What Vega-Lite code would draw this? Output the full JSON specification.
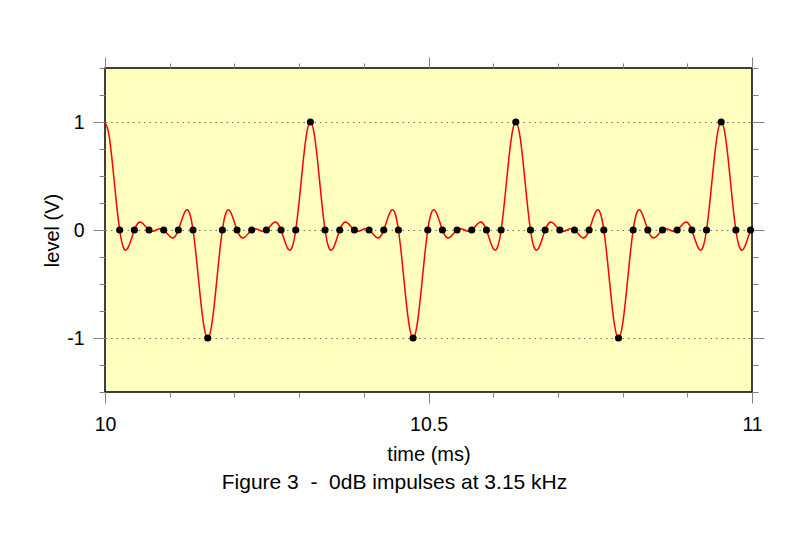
{
  "$schema": "https://vega.github.io/schema/vega-lite/v6.json",
  "width": 647,
  "height": 324,
  "autosize": {"type": "none"},
  "padding": {"left": 105, "top": 68, "right": 49, "bottom": 150},
  "background": "white",
  "title": {
    "text": "Figure 3\u00a0\u00a0-\u00a0\u00a00dB impulses at 3.15 kHz",
    "orient": "bottom",
    "anchor": "middle",
    "frame": "group",
    "font": "Liberation Sans",
    "fontSize": 21,
    "fontWeight": "normal",
    "color": "black",
    "offset": 7,
    "dx": -34
  },
  "config": {
    "font": "Liberation Sans",
    "view": {"fill": "#FFFFC0", "stroke": "black", "strokeWidth": 1.5},
    "axis": {
      "grid": false,
      "domain": false,
      "labelFlush": false,
      "tickColor": "#808080",
      "tickWidth": 1,
      "labelFont": "Liberation Sans",
      "labelFontSize": 19.5,
      "labelColor": "black",
      "titleFont": "Liberation Sans",
      "titleFontSize": 20,
      "titleFontWeight": "normal",
      "titleColor": "black"
    }
  },
  "datasets": {
    "curve": [
      {"t": 10, "v": 1}, {"t": 10.00567, "v": 0.8965}, {"t": 10.01134, "v": 0.6259}, {"t": 10.01701, "v": 0.2887},
      {"t": 10.02268, "v": 0}, {"t": 10.02834, "v": -0.1608}, {"t": 10.03401, "v": -0.1791}, {"t": 10.03968, "v": -0.101},
      {"t": 10.04535, "v": 0}, {"t": 10.05102, "v": 0.0635}, {"t": 10.05669, "v": 0.0688}, {"t": 10.06236, "v": 0.0353},
      {"t": 10.06803, "v": 0}, {"t": 10.0737, "v": -0.0114}, {"t": 10.07937, "v": 0}, {"t": 10.08503, "v": 0.0114},
      {"t": 10.0907, "v": 0}, {"t": 10.09637, "v": -0.0353}, {"t": 10.10204, "v": -0.0688}, {"t": 10.10771, "v": -0.0635},
      {"t": 10.11338, "v": 0}, {"t": 10.11905, "v": 0.101}, {"t": 10.12472, "v": 0.1791}, {"t": 10.13039, "v": 0.1608},
      {"t": 10.13605, "v": 0}, {"t": 10.14172, "v": -0.2887}, {"t": 10.14739, "v": -0.6259}, {"t": 10.15306, "v": -0.8965},
      {"t": 10.15873, "v": -1}, {"t": 10.1644, "v": -0.8965}, {"t": 10.17007, "v": -0.6259}, {"t": 10.17574, "v": -0.2887},
      {"t": 10.18141, "v": 0}, {"t": 10.18707, "v": 0.1608}, {"t": 10.19274, "v": 0.1791}, {"t": 10.19841, "v": 0.101},
      {"t": 10.20408, "v": 0}, {"t": 10.20975, "v": -0.0635}, {"t": 10.21542, "v": -0.0688}, {"t": 10.22109, "v": -0.0353},
      {"t": 10.22676, "v": 0}, {"t": 10.23243, "v": 0.0114}, {"t": 10.2381, "v": 0}, {"t": 10.24376, "v": -0.0114},
      {"t": 10.24943, "v": 0}, {"t": 10.2551, "v": 0.0353}, {"t": 10.26077, "v": 0.0688}, {"t": 10.26644, "v": 0.0635},
      {"t": 10.27211, "v": 0}, {"t": 10.27778, "v": -0.101}, {"t": 10.28345, "v": -0.1791}, {"t": 10.28912, "v": -0.1608},
      {"t": 10.29478, "v": 0}, {"t": 10.30045, "v": 0.2887}, {"t": 10.30612, "v": 0.6259}, {"t": 10.31179, "v": 0.8965},
      {"t": 10.31746, "v": 1}, {"t": 10.32313, "v": 0.8965}, {"t": 10.3288, "v": 0.6259}, {"t": 10.33447, "v": 0.2887},
      {"t": 10.34014, "v": 0}, {"t": 10.3458, "v": -0.1608}, {"t": 10.35147, "v": -0.1791}, {"t": 10.35714, "v": -0.101},
      {"t": 10.36281, "v": 0}, {"t": 10.36848, "v": 0.0635}, {"t": 10.37415, "v": 0.0688}, {"t": 10.37982, "v": 0.0353},
      {"t": 10.38549, "v": 0}, {"t": 10.39116, "v": -0.0114}, {"t": 10.39683, "v": 0}, {"t": 10.40249, "v": 0.0114},
      {"t": 10.40816, "v": 0}, {"t": 10.41383, "v": -0.0353}, {"t": 10.4195, "v": -0.0688}, {"t": 10.42517, "v": -0.0635},
      {"t": 10.43084, "v": 0}, {"t": 10.43651, "v": 0.101}, {"t": 10.44218, "v": 0.1791}, {"t": 10.44785, "v": 0.1608},
      {"t": 10.45351, "v": 0}, {"t": 10.45918, "v": -0.2887}, {"t": 10.46485, "v": -0.6259}, {"t": 10.47052, "v": -0.8965},
      {"t": 10.47619, "v": -1}, {"t": 10.48186, "v": -0.8965}, {"t": 10.48753, "v": -0.6259}, {"t": 10.4932, "v": -0.2887},
      {"t": 10.49887, "v": 0}, {"t": 10.50454, "v": 0.1608}, {"t": 10.5102, "v": 0.1791}, {"t": 10.51587, "v": 0.101},
      {"t": 10.52154, "v": 0}, {"t": 10.52721, "v": -0.0635}, {"t": 10.53288, "v": -0.0688}, {"t": 10.53855, "v": -0.0353},
      {"t": 10.54422, "v": 0}, {"t": 10.54989, "v": 0.0114}, {"t": 10.55556, "v": 0}, {"t": 10.56122, "v": -0.0114},
      {"t": 10.56689, "v": 0}, {"t": 10.57256, "v": 0.0353}, {"t": 10.57823, "v": 0.0688}, {"t": 10.5839, "v": 0.0635},
      {"t": 10.58957, "v": 0}, {"t": 10.59524, "v": -0.101}, {"t": 10.60091, "v": -0.1791}, {"t": 10.60658, "v": -0.1608},
      {"t": 10.61224, "v": 0}, {"t": 10.61791, "v": 0.2887}, {"t": 10.62358, "v": 0.6259}, {"t": 10.62925, "v": 0.8965},
      {"t": 10.63492, "v": 1}, {"t": 10.64059, "v": 0.8965}, {"t": 10.64626, "v": 0.6259}, {"t": 10.65193, "v": 0.2887},
      {"t": 10.6576, "v": 0}, {"t": 10.66327, "v": -0.1608}, {"t": 10.66893, "v": -0.1791}, {"t": 10.6746, "v": -0.101},
      {"t": 10.68027, "v": 0}, {"t": 10.68594, "v": 0.0635}, {"t": 10.69161, "v": 0.0688}, {"t": 10.69728, "v": 0.0353},
      {"t": 10.70295, "v": 0}, {"t": 10.70862, "v": -0.0114}, {"t": 10.71429, "v": 0}, {"t": 10.71995, "v": 0.0114},
      {"t": 10.72562, "v": 0}, {"t": 10.73129, "v": -0.0353}, {"t": 10.73696, "v": -0.0688}, {"t": 10.74263, "v": -0.0635},
      {"t": 10.7483, "v": 0}, {"t": 10.75397, "v": 0.101}, {"t": 10.75964, "v": 0.1791}, {"t": 10.76531, "v": 0.1608},
      {"t": 10.77098, "v": 0}, {"t": 10.77664, "v": -0.2887}, {"t": 10.78231, "v": -0.6259}, {"t": 10.78798, "v": -0.8965},
      {"t": 10.79365, "v": -1}, {"t": 10.79932, "v": -0.8965}, {"t": 10.80499, "v": -0.6259}, {"t": 10.81066, "v": -0.2887},
      {"t": 10.81633, "v": 0}, {"t": 10.822, "v": 0.1608}, {"t": 10.82766, "v": 0.1791}, {"t": 10.83333, "v": 0.101},
      {"t": 10.839, "v": 0}, {"t": 10.84467, "v": -0.0635}, {"t": 10.85034, "v": -0.0688}, {"t": 10.85601, "v": -0.0353},
      {"t": 10.86168, "v": 0}, {"t": 10.86735, "v": 0.0114}, {"t": 10.87302, "v": 0}, {"t": 10.87868, "v": -0.0114},
      {"t": 10.88435, "v": 0}, {"t": 10.89002, "v": 0.0353}, {"t": 10.89569, "v": 0.0688}, {"t": 10.90136, "v": 0.0635},
      {"t": 10.90703, "v": 0}, {"t": 10.9127, "v": -0.101}, {"t": 10.91837, "v": -0.1791}, {"t": 10.92404, "v": -0.1608},
      {"t": 10.92971, "v": 0}, {"t": 10.93537, "v": 0.2887}, {"t": 10.94104, "v": 0.6259}, {"t": 10.94671, "v": 0.8965},
      {"t": 10.95238, "v": 1}, {"t": 10.95805, "v": 0.8965}, {"t": 10.96372, "v": 0.6259}, {"t": 10.96939, "v": 0.2887},
      {"t": 10.97506, "v": 0}, {"t": 10.98073, "v": -0.1608}, {"t": 10.98639, "v": -0.1791}, {"t": 10.99206, "v": -0.101},
      {"t": 10.99773, "v": 0}, {"t": 11, "v": 0.0321}
    ],
    "samples": [
      {"t": 10.02268, "v": 0}, {"t": 10.04535, "v": 0}, {"t": 10.06803, "v": 0}, {"t": 10.0907, "v": 0},
      {"t": 10.11338, "v": 0}, {"t": 10.13605, "v": 0}, {"t": 10.15873, "v": -1}, {"t": 10.18141, "v": 0},
      {"t": 10.20408, "v": 0}, {"t": 10.22676, "v": 0}, {"t": 10.24943, "v": 0}, {"t": 10.27211, "v": 0},
      {"t": 10.29478, "v": 0}, {"t": 10.31746, "v": 1}, {"t": 10.34014, "v": 0}, {"t": 10.36281, "v": 0},
      {"t": 10.38549, "v": 0}, {"t": 10.40816, "v": 0}, {"t": 10.43084, "v": 0}, {"t": 10.45351, "v": 0},
      {"t": 10.47619, "v": -1}, {"t": 10.49887, "v": 0}, {"t": 10.52154, "v": 0}, {"t": 10.54422, "v": 0},
      {"t": 10.56689, "v": 0}, {"t": 10.58957, "v": 0}, {"t": 10.61224, "v": 0}, {"t": 10.63492, "v": 1},
      {"t": 10.6576, "v": 0}, {"t": 10.68027, "v": 0}, {"t": 10.70295, "v": 0}, {"t": 10.72562, "v": 0},
      {"t": 10.7483, "v": 0}, {"t": 10.77098, "v": 0}, {"t": 10.79365, "v": -1}, {"t": 10.81633, "v": 0},
      {"t": 10.839, "v": 0}, {"t": 10.86168, "v": 0}, {"t": 10.88435, "v": 0}, {"t": 10.90703, "v": 0},
      {"t": 10.92971, "v": 0}, {"t": 10.95238, "v": 1}, {"t": 10.97506, "v": 0}, {"t": 10.99773, "v": 0}
    ]
  },
  "resolve": {"axis": {"x": "independent", "y": "independent"}},
  "layer": [
    {
      "data": {"name": "curve"},
      "mark": {"type": "line", "color": "#FF0000", "strokeWidth": 1.5, "interpolate": "natural"},
      "encoding": {
        "x": {"field": "t", "type": "quantitative", "scale": {"domain": [10, 11], "nice": false, "zero": false},
          "axis": {"orient": "bottom", "values": [10, 10.1, 10.2, 10.3, 10.4, 10.5, 10.6, 10.7, 10.8, 10.9, 11], "tickSize": 5, "labels": false, "title": null}},
        "y": {"field": "v", "type": "quantitative", "scale": {"domain": [-1.5, 1.5], "nice": false, "zero": false},
          "axis": {"orient": "left", "values": [-1.5, -1.25, -1, -0.75, -0.5, -0.25, 0, 0.25, 0.5, 0.75, 1, 1.25, 1.5], "tickSize": 6, "labels": false, "title": null}}
      }
    },
    {
      "data": {"name": "samples"},
      "mark": {"type": "point", "filled": true, "color": "black", "size": 50, "opacity": 1},
      "encoding": {
        "x": {"field": "t", "type": "quantitative", "scale": {"domain": [10, 11], "nice": false, "zero": false},
          "axis": {"orient": "bottom", "values": [10, 10.5, 11], "tickSize": 11, "labelPadding": 12, "labelExpr": "'' + datum.value", "title": "time (ms)", "titlePadding": 11}},
        "y": {"field": "v", "type": "quantitative", "scale": {"domain": [-1.5, 1.5], "nice": false, "zero": false},
          "axis": {"orient": "left", "values": [-1, 0, 1], "tickSize": 12, "labelPadding": 9, "labelExpr": "'' + datum.value", "title": "level (V)", "titlePadding": 4,
            "grid": true, "gridColor": "#707070", "gridDash": [1.5, 4], "gridWidth": 1}}
      }
    },
    {
      "data": {"name": "samples"},
      "mark": {"type": "point", "opacity": 0},
      "encoding": {
        "x": {"field": "t", "type": "quantitative", "scale": {"domain": [10, 11], "nice": false, "zero": false},
          "axis": {"orient": "top", "values": [10, 10.1, 10.2, 10.3, 10.4, 10.5, 10.6, 10.7, 10.8, 10.9, 11], "tickSize": 5, "labels": false, "title": null}},
        "y": {"field": "v", "type": "quantitative", "scale": {"domain": [-1.5, 1.5], "nice": false, "zero": false},
          "axis": {"orient": "right", "values": [-1.5, -1.25, -1, -0.75, -0.5, -0.25, 0, 0.25, 0.5, 0.75, 1, 1.25, 1.5], "tickSize": 6, "labels": false, "title": null}}
      }
    },
    {
      "data": {"name": "samples"},
      "mark": {"type": "point", "opacity": 0},
      "encoding": {
        "x": {"field": "t", "type": "quantitative", "scale": {"domain": [10, 11], "nice": false, "zero": false},
          "axis": {"orient": "top", "values": [10, 10.5, 11], "tickSize": 11, "labels": false, "title": null}},
        "y": {"field": "v", "type": "quantitative", "scale": {"domain": [-1.5, 1.5], "nice": false, "zero": false},
          "axis": {"orient": "right", "values": [-1, 0, 1], "tickSize": 12, "labels": false, "title": null}}
      }
    }
  ]
}
